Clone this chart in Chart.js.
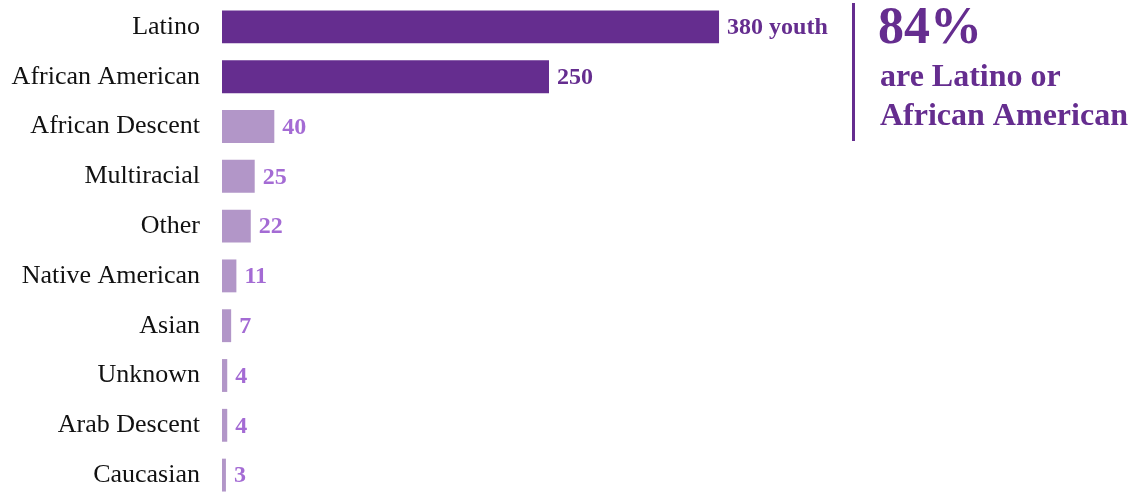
<!DOCTYPE html>
<html>
<head>
<meta charset="utf-8">
<script src="https://cdn.jsdelivr.net/npm/chart.js@4"></script>
<style>
  html, body { margin: 0; padding: 0; background: #fff; }
  #wrap { position: relative; width: 1146px; height: 500px; }
</style>
</head>
<body>
<div id="wrap"><canvas id="youthChart"></canvas></div>
<script>
// --- DATA --- //
const groups = ['Latino', 'African American', 'African Descent', 'Multiracial', 'Other',
  'Native American', 'Asian', 'Unknown', 'Arab Descent', 'Caucasian']
const youthCounts = [380, 250, 40, 25, 22, 11, 7, 4, 4, 3]
// the two largest groups get the dark colour
const highlighted = [true, true, false, false, false, false, false, false, false, false]
const calloutLines = ['84%', 'are Latino or', 'African American']

const darkPurple = '#652d8f'
const lightPurple = '#b296c8'
const lightLabel = '#a46bd4'
const serif = "'Liberation Serif', 'Times New Roman', serif"

// Value labels at the end of each bar
const valueLabels = {
  id: 'valueLabels',
  afterDatasetsDraw: chart => {
    const ctx = chart.ctx
    const meta = chart.getDatasetMeta(0)
    ctx.save()
    ctx.font = `bold 24px ${serif}`
    ctx.textBaseline = 'middle'
    ctx.textAlign = 'left'
    meta.data.forEach((bar, i) => {
      ctx.fillStyle = highlighted[i] ? darkPurple : lightLabel
      const text = i === 0 ? `${youthCounts[i]} youth` : `${youthCounts[i]}`
      ctx.fillText(text, bar.x + 8, bar.y + 1)
    })
    ctx.restore()
  }
}

// Callout on the right: vertical rule + big percentage
const callout = {
  id: 'callout',
  afterDraw: chart => {
    const ctx = chart.ctx
    ctx.save()
    ctx.strokeStyle = darkPurple
    ctx.lineWidth = 3
    ctx.beginPath()
    ctx.moveTo(853.5, 3)
    ctx.lineTo(853.5, 141)
    ctx.stroke()

    ctx.fillStyle = darkPurple
    ctx.textAlign = 'left'
    ctx.textBaseline = 'alphabetic'
    ctx.font = `bold 52px ${serif}`
    ctx.fillText(calloutLines[0], 878, 43)
    ctx.font = `bold 32px ${serif}`
    ctx.fillText(calloutLines[1], 880, 86)
    ctx.fillText(calloutLines[2], 880, 125)
    ctx.restore()
  }
}

const ctxEl = document.getElementById('youthChart')

new Chart(ctxEl, {
  type: 'bar',
  data: {
    labels: groups,
    datasets: [{
      data: youthCounts,
      backgroundColor: highlighted.map(h => (h ? darkPurple : lightPurple)),
      barPercentage: 0.66,
      categoryPercentage: 1
    }]
  },
  options: {
    indexAxis: 'y',
    responsive: true,
    maintainAspectRatio: false,
    animation: false,
    layout: { padding: { top: 2, bottom: 0, left: 0, right: 270 } },
    plugins: {
      legend: { display: false },
      tooltip: { enabled: false }
    },
    scales: {
      x: {
        min: 0,
        max: 500,
        display: false
      },
      y: {
        grid: { display: false, drawTicks: false },
        border: { display: false },
        afterFit: scale => {
          // fixed label column, and no extra padding above/below the rows
          scale.width = 222
          scale.paddingTop = 0
          scale.paddingBottom = 0
        },
        ticks: {
          color: '#111',
          padding: 22,
          font: { family: serif, size: 26 }
        }
      }
    }
  },
  plugins: [valueLabels, callout]
})
</script>
</body>
</html>
